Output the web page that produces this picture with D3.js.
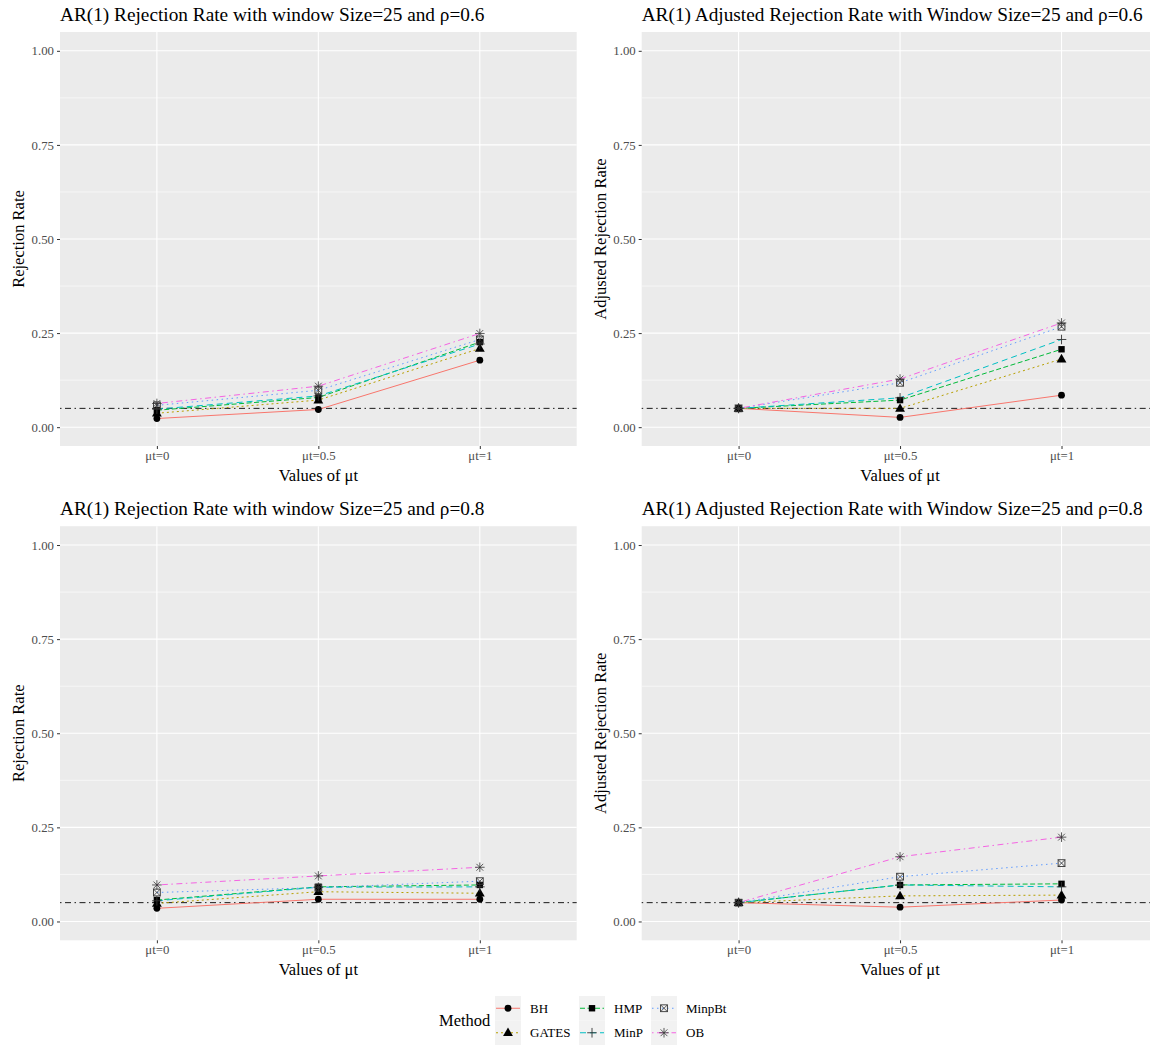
<!DOCTYPE html>
<html>
<head>
<meta charset="utf-8">
<script src="https://cdn.jsdelivr.net/npm/d3@7"></script>
<style>
  body { margin: 0; background: #fff; }
  text { font-family: "Liberation Serif", "Times New Roman", serif; }
</style>
</head>
<body>
<div id="chart"></div>
<script>
// categories
const methods = ["BH", "GATES", "HMP", "MinP", "MinpBt", "OB"];
const xLabels = ["\u03bct=0", "\u03bct=0.5", "\u03bct=1"];
const yTicks = [0, 0.25, 0.5, 0.75, 1];
const refLine = 0.05;

// values, one row per method (BH, GATES, HMP, MinP, MinpBt, OB)
const rate06 = [
  [0.023, 0.047, 0.178],
  [0.037, 0.072, 0.209],
  [0.045, 0.079, 0.226],
  [0.048, 0.083, 0.221],
  [0.058, 0.098, 0.233],
  [0.063, 0.109, 0.249]
];
const adjRate06 = [
  [0.05, 0.026, 0.085],
  [0.05, 0.050, 0.181],
  [0.05, 0.072, 0.207],
  [0.05, 0.078, 0.233],
  [0.05, 0.118, 0.267],
  [0.05, 0.128, 0.277]
];
const rate08 = [
  [0.035, 0.059, 0.059],
  [0.048, 0.079, 0.075],
  [0.057, 0.092, 0.097],
  [0.055, 0.091, 0.092],
  [0.077, 0.090, 0.107],
  [0.097, 0.121, 0.144]
];
const adjRate08 = [
  [0.05, 0.038, 0.057],
  [0.05, 0.068, 0.070],
  [0.05, 0.097, 0.100],
  [0.05, 0.097, 0.092],
  [0.05, 0.119, 0.155],
  [0.05, 0.172, 0.224]
];

const titles = [
  "AR(1) Rejection Rate with window Size=25 and \u03c1=0.6",
  "AR(1) Adjusted Rejection Rate with Window Size=25 and \u03c1=0.6",
  "AR(1) Rejection Rate with window Size=25 and \u03c1=0.8",
  "AR(1) Adjusted Rejection Rate with Window Size=25 and \u03c1=0.8"
];
const yTitles = ["Rejection Rate", "Adjusted Rejection Rate", "Rejection Rate", "Adjusted Rejection Rate"];
const panelData = [rate06, adjRate06, rate08, adjRate08];

// styles
const colors = ["#F8766D", "#B79F00", "#00BA38", "#00BFC4", "#619CFF", "#F564E3"];
const dashes = ["", "2,3", "5,2.5", "6,4", "1.5,3.5", "1.5,3.5,6,3.5"];
const shapes = ["circle", "triangle", "square", "plus", "boxcross", "asterisk"];

const W = 1150, H = 1046;
const svg = d3.select("#chart").append("svg")
  .attr("width", W).attr("height", H);

const layout = [
  {x0: 60, x1: 576.7, y0: 32, y1: 446},
  {x0: 641.7, x1: 1158.4, y0: 32, y1: 446},
  {x0: 60, x1: 576.7, y0: 526.2, y1: 940.3},
  {x0: 641.7, x1: 1158.4, y0: 526.2, y1: 940.3}
];

function drawShape(g, shape, cx, cy) {
  if (shape === "circle") {
    g.append("circle").attr("cx", cx).attr("cy", cy).attr("r", 3.4).attr("fill", "#000");
  } else if (shape === "triangle") {
    g.append("path").attr("d", d3.symbol(d3.symbolTriangle, 42)()).attr("transform", `translate(${cx},${cy + 0.5})`).attr("fill", "#000");
  } else if (shape === "square") {
    g.append("rect").attr("x", cx - 3.2).attr("y", cy - 3.2).attr("width", 6.4).attr("height", 6.4).attr("fill", "#000");
  } else if (shape === "plus") {
    g.append("path").attr("d", `M${cx - 4.8},${cy}H${cx + 4.8}M${cx},${cy - 4.8}V${cy + 4.8}`)
      .attr("stroke", "#333").attr("stroke-width", 0.9).attr("fill", "none");
  } else if (shape === "boxcross") {
    g.append("rect").attr("x", cx - 3.4).attr("y", cy - 3.4).attr("width", 6.8).attr("height", 6.8)
      .attr("fill", "none").attr("stroke", "#333").attr("stroke-width", 0.9);
    g.append("path").attr("d", `M${cx - 3.4},${cy - 3.4}L${cx + 3.4},${cy + 3.4}M${cx - 3.4},${cy + 3.4}L${cx + 3.4},${cy - 3.4}`)
      .attr("stroke", "#333").attr("stroke-width", 0.8).attr("fill", "none");
  } else if (shape === "asterisk") {
    const r = 4.8, d = r * 0.707;
    g.append("path").attr("d", `M${cx - r},${cy}H${cx + r}M${cx},${cy - r}V${cy + r}M${cx - d},${cy - d}L${cx + d},${cy + d}M${cx - d},${cy + d}L${cx + d},${cy - d}`)
      .attr("stroke", "#333").attr("stroke-width", 0.8).attr("fill", "none");
  }
}

panelData.forEach((data, pi) => {
  const L = layout[pi];
  const x = d3.scalePoint().domain(xLabels).range([L.x0, L.x1]).padding(0.6);
  const y = d3.scaleLinear().domain([-0.05, 1.05]).range([L.y1, L.y0]);
  const g = svg.append("g");

  // panel background
  g.append("rect").attr("x", L.x0).attr("y", L.y0)
    .attr("width", L.x1 - L.x0).attr("height", L.y1 - L.y0).attr("fill", "#EBEBEB");

  // minor grid
  [0.125, 0.375, 0.625, 0.875].forEach(v => {
    g.append("line").attr("x1", L.x0).attr("x2", L.x1).attr("y1", y(v)).attr("y2", y(v))
      .attr("stroke", "#fff").attr("stroke-width", 0.6);
  });
  // major grid
  yTicks.forEach(v => {
    g.append("line").attr("x1", L.x0).attr("x2", L.x1).attr("y1", y(v)).attr("y2", y(v))
      .attr("stroke", "#fff").attr("stroke-width", 1.1);
  });
  xLabels.forEach(c => {
    g.append("line").attr("x1", x(c)).attr("x2", x(c)).attr("y1", L.y0).attr("y2", L.y1)
      .attr("stroke", "#fff").attr("stroke-width", 1.1);
  });

  // axes
  const yAxis = d3.axisLeft(y).tickValues(yTicks).tickFormat(d3.format(".2f")).tickSize(3).tickPadding(3);
  const ya = g.append("g").attr("transform", `translate(${L.x0},0)`).call(yAxis);
  const xAxis = d3.axisBottom(x).tickSize(3).tickPadding(2);
  const xa = g.append("g").attr("transform", `translate(0,${L.y1})`).call(xAxis);
  [ya, xa].forEach(a => {
    a.select(".domain").remove();
    a.selectAll(".tick line").attr("stroke", "#333").attr("stroke-width", 1);
    a.selectAll(".tick text").attr("fill", "#4D4D4D").style("font-size", "12.8px")
      .style("font-family", "'Liberation Serif', serif");
  });

  // reference line
  g.append("line").attr("x1", L.x0).attr("x2", L.x1).attr("y1", y(refLine)).attr("y2", y(refLine))
    .attr("stroke", "#000").attr("stroke-width", 0.9).attr("stroke-dasharray", "1.5,3.5,6,3.5");

  // series lines
  const line = d3.line().x((d, i) => x(xLabels[i])).y(d => y(d));
  data.forEach((vals, mi) => {
    g.append("path").attr("d", line(vals)).attr("fill", "none")
      .attr("stroke", colors[mi]).attr("stroke-width", 1)
      .attr("stroke-dasharray", dashes[mi] || null);
  });
  // points
  data.forEach((vals, mi) => {
    vals.forEach((v, i) => drawShape(g, shapes[mi], x(xLabels[i]), y(v)));
  });

  // titles
  g.append("text").attr("x", L.x0).attr("y", L.y0 - 11)
    .style("font-size", "19.3px").attr("fill", "#000").text(titles[pi]);
  g.append("text").attr("x", (L.x0 + L.x1) / 2).attr("y", L.y1 + 35)
    .attr("text-anchor", "middle").style("font-size", "16.5px").attr("fill", "#000").text("Values of \u03bct");
  g.append("text")
    .attr("transform", `translate(${L.x0 - 36},${(L.y0 + L.y1) / 2}) rotate(-90)`)
    .attr("text-anchor", "middle").style("font-size", "16.5px").attr("fill", "#000").text(yTitles[pi]);
});

// legend
const lg = svg.append("g");
lg.append("text").attr("x", 439).attr("y", 1026).style("font-size", "16.5px").text("Method");
const colX = [495, 579, 651];
methods.forEach((m, i) => {
  const col = Math.floor(i / 2), row = i % 2;
  const kx = colX[col], ky = 996 + row * 24.5;
  lg.append("rect").attr("x", kx).attr("y", ky).attr("width", 26).attr("height", 24.5).attr("fill", "#F2F2F2");
  lg.append("line").attr("x1", kx + 1).attr("x2", kx + 25).attr("y1", ky + 12.25).attr("y2", ky + 12.25)
    .attr("stroke", colors[i]).attr("stroke-width", 1).attr("stroke-dasharray", dashes[i] || null);
  drawShape(lg, shapes[i], kx + 13, ky + 12.25);
  lg.append("text").attr("x", kx + 35).attr("y", ky + 16.5).style("font-size", "13px").text(m);
});
</script>
</body>
</html>
